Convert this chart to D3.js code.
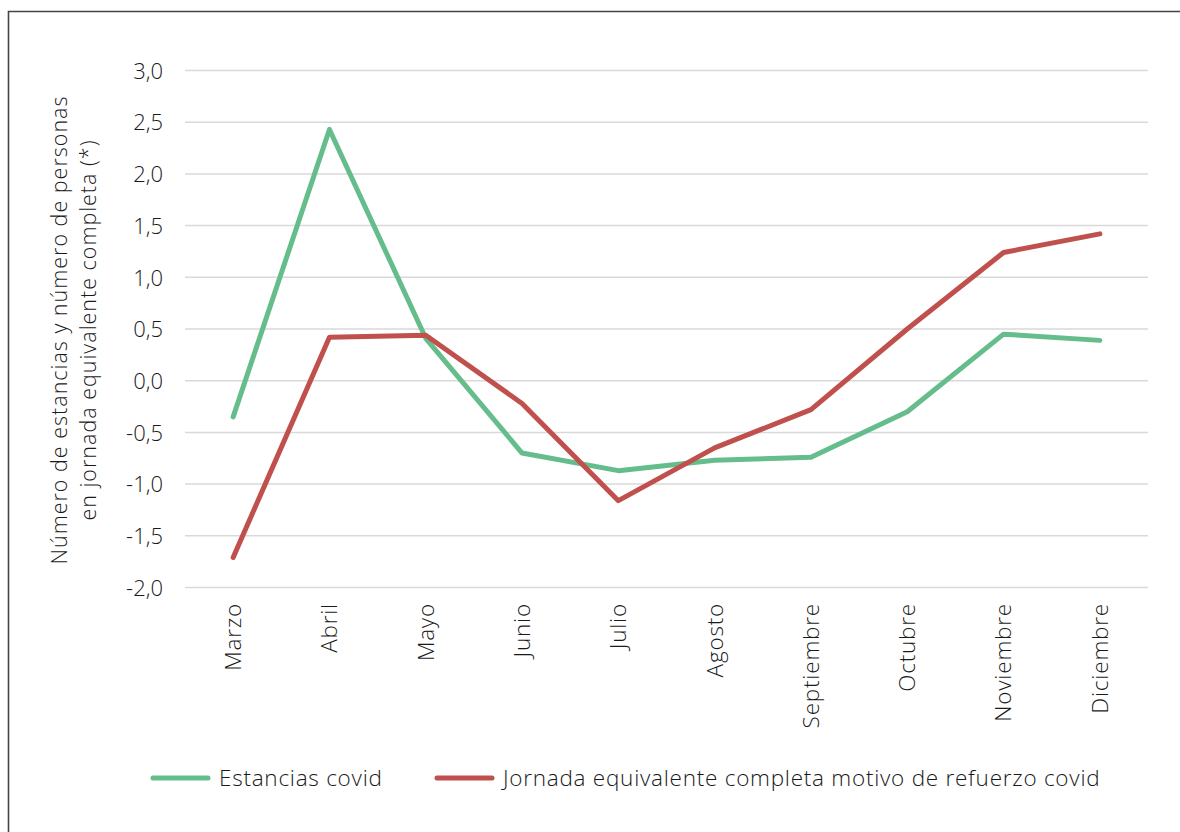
<!DOCTYPE html>
<html><head><meta charset="utf-8">
<script src="https://cdn.jsdelivr.net/npm/d3@7"></script>
<style>
body{margin:0;background:#fff;}
text{font-family:"Open Sans","Liberation Sans",Arial,sans-serif;font-weight:300;}
</style></head>
<body><svg id="c" width="1180" height="832"></svg>
<script>
const months = ["Marzo","Abril","Mayo","Junio","Julio","Agosto","Septiembre","Octubre","Noviembre","Diciembre"];
const estancias = [-0.35, 2.43, 0.41, -0.70, -0.87, -0.77, -0.74, -0.30, 0.45, 0.39];
const jornada = [-1.71, 0.42, 0.44, -0.22, -1.16, -0.65, -0.28, 0.50, 1.24, 1.42];
const yTicks = [-2.0,-1.5,-1.0,-0.5,0.0,0.5,1.0,1.5,2.0,2.5,3.0];
const seriesNames = ["Estancias covid","Jornada equivalente completa motivo de refuerzo covid"];
const colors = ["#66BD8C","#C0504D"];

const svg = d3.select("#c");
// frame
svg.append("path").attr("d","M8.5,900 L8.5,11.5 L1200,11.5").attr("fill","none").attr("stroke","#444").attr("stroke-width",1.6);

const x = d3.scaleBand().domain(months).range([185,1148]);
const y = d3.scaleLinear().domain([-2,3]).range([587.5,70.5]);

// grid
svg.append("g").selectAll("line").data(yTicks).join("line")
 .attr("x1",185).attr("x2",1148).attr("y1",d=>y(d)).attr("y2",d=>y(d))
 .attr("stroke","#d9d9d9").attr("stroke-width",1.5);

// y axis
const yAxis = d3.axisLeft(y).tickValues(yTicks).tickSize(0).tickPadding(0)
 .tickFormat(d=>d3.format(".1f")(d).replace(".",",").replace("\u2212","-"));
const ga = svg.append("g").attr("transform","translate(163,0)").call(yAxis);
ga.select(".domain").remove();
ga.selectAll("text").attr("font-size",22).attr("fill","#1a1a1a").attr("dy","0.35em").attr("x",0);

// x axis
const xAxis = d3.axisBottom(x).tickSize(0).tickPadding(0);
const gx = svg.append("g").attr("transform","translate(0,603)").call(xAxis);
gx.select(".domain").remove();
gx.selectAll("text").attr("font-size",22.5).attr("letter-spacing",0.8).attr("fill","#1a1a1a")
 .attr("text-anchor","end").attr("transform","rotate(-90)").attr("x",0).attr("y",0).attr("dy","0.35em");

// y title
const yt = svg.append("text").attr("transform","translate(74,330) rotate(-90)").attr("text-anchor","middle")
 .attr("font-size",21.5).attr("letter-spacing",1).attr("fill","#1a1a1a");
yt.append("tspan").attr("x",0).attr("dy","-0.32em").text("Número de estancias y número de personas");
yt.append("tspan").attr("x",0).attr("dy","1.35em").text("en jornada equivalente completa (*)");

// lines
const line = d3.line().x((d,i)=>x(months[i])+x.bandwidth()/2).y(d=>y(d));
[estancias, jornada].forEach((s,i)=>{
  svg.append("path").datum(s).attr("d",line).attr("fill","none")
   .attr("stroke",colors[i]).attr("stroke-width",5).attr("stroke-linecap","round").attr("stroke-linejoin","round");
});

// legend
const legX = [153, 437];
seriesNames.forEach((n,i)=>{
  const g = svg.append("g").attr("transform",`translate(${legX[i]},778)`);
  g.append("line").attr("x1",0).attr("x2",55).attr("stroke",colors[i]).attr("stroke-width",5).attr("stroke-linecap","round");
  g.append("text").attr("x",66).attr("dy","0.35em").attr("font-size",22.5).attr("letter-spacing",0.75).attr("fill","#1a1a1a").text(n);
});
</script></body></html>
